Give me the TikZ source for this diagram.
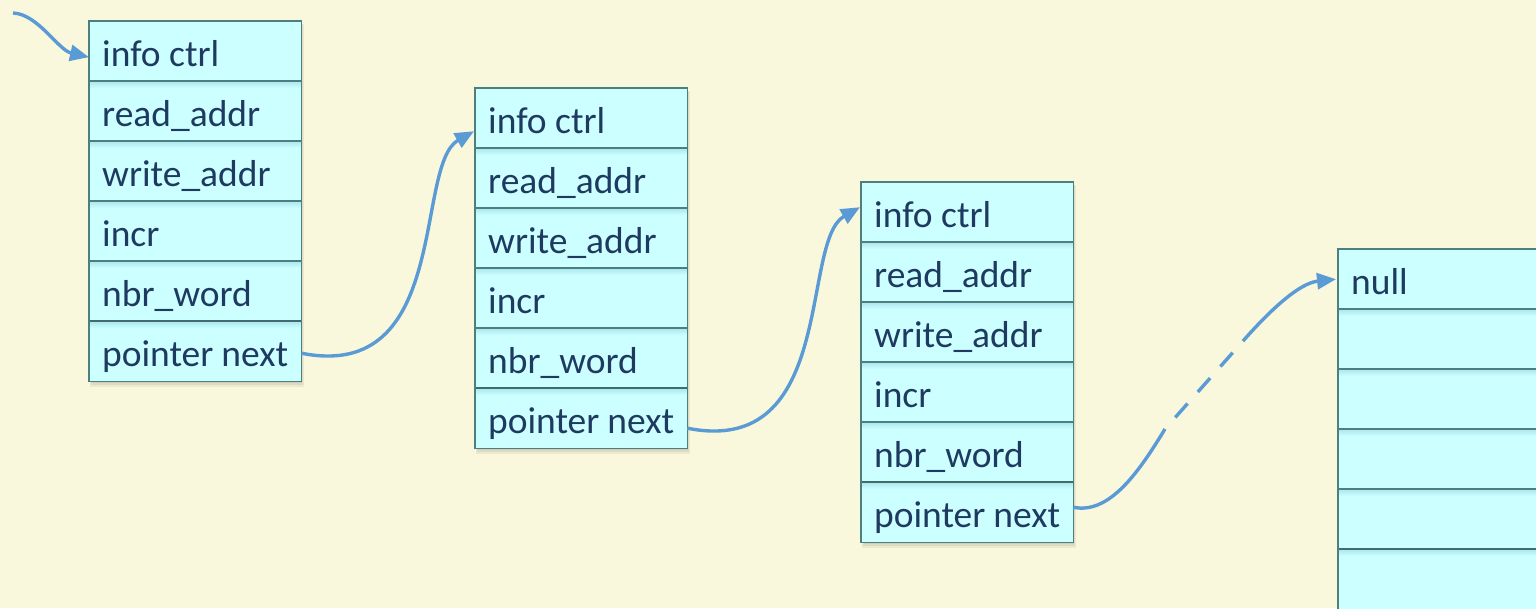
\documentclass[tikz,border=0pt]{standalone}
\usepackage{fontspec}
\setmainfont{Carlito}
\usetikzlibrary{arrows.meta,calc}
\definecolor{bg}{HTML}{FAF8DC}
\definecolor{cellfill}{HTML}{CCFFFF}
\definecolor{cellshade}{HTML}{A9E6EE}
\definecolor{cellline}{HTML}{4E7E7E}
\definecolor{txt}{HTML}{1F3A60}
\definecolor{arr}{HTML}{5B9BD5}
\newcommand\rowbox[1]{\hbox to 186pt{#1\hfil}}
\begin{document}
\begin{tikzpicture}[x=1pt,y=-1pt,
  cell/.style={fill=cellfill, draw=none, minimum width=212pt, minimum height=60pt,
    inner xsep=13pt, inner ysep=0pt, text height=30pt, text depth=0pt,
    anchor=north west, font=\fontsize{37.5}{44}\selectfont, text=txt},
  link/.style={draw=arr, line width=3.4pt, -{Triangle[length=19pt,width=16pt]}},
  linkseg/.style={draw=arr, line width=3.4pt},
  frame/.style={draw=cellline, line width=1.5pt},
  divider/.style={draw=cellline, line width=1.3pt},
  sepline/.style={draw=cellline!85!black, line width=2.8pt},
  boxshadow/.style={fill=black, opacity=0.06}
]
\fill[bg] (0,0) rectangle (1536,608);
\useasboundingbox (0,0) rectangle (1536,608);
\clip (0,0) rectangle (1536,608);

% shadows of the boxes
\foreach \bx/\by in {89/21, 475/88, 861/182, 1338/249}{
  \fill[boxshadow] (\bx+1,\by+3) rectangle (\bx+215,\by+366);
  \fill[boxshadow] (\bx+2,\by+4) rectangle (\bx+214,\by+364);
  \fill[boxshadow] (\bx+3,\by+5) rectangle (\bx+213,\by+362);
}

% box 1
\foreach \t [count=\i] in {info ctrl, read\_addr, write\_addr, incr, nbr\_word, pointer next}
  \node[cell] (a\i) at (89, {21+60*(\i-1)}) {\rowbox{\t}};
% box 2
\foreach \t [count=\i] in {info ctrl, read\_addr, write\_addr, incr, nbr\_word, pointer next}
  \node[cell] (b\i) at (475, {88+60*(\i-1)}) {\rowbox{\t}};
% box 3
\foreach \t [count=\i] in {info ctrl, read\_addr, write\_addr, incr, nbr\_word, pointer next}
  \node[cell] (c\i) at (861, {182+60*(\i-1)}) {\rowbox{\t}};
% box 4
\foreach \t [count=\i] in {null, {}, {}, {}, {}, {}}
  \node[cell] (d\i) at (1338, {249+60*(\i-1)}) {\rowbox{\t}};

% soft shading under the dividers, dividers and frames
\foreach \p in {a,b,c,d}{
  \foreach \i in {2,...,6}{
    \shade[top color=cellshade, bottom color=cellfill]
      (\p\i.north west) rectangle ($(\p\i.north east)+(0,7)$);
  }
  \foreach \i in {2,...,5}{
    \draw[divider] (\p\i.north west) -- (\p\i.north east);
  }
  \draw[sepline] (\p6.north west) -- (\p6.north east);
  \draw[frame] (\p1.north west) rectangle (\p6.south east);
}

% connectors
\coordinate (in0) at (13,13);
\draw[link] (in0) .. controls (38,14) and (58,50) .. ($(a1.west)+(0,6)$);

\draw[link] ($(a6.east)+(0,2)$) .. controls +(150,30) and +(-60,34) .. ($(b1.west)+(-1,13)$);

\draw[link] ($(b6.east)+(0,10)$) .. controls +(150,30) and +(-60,34) .. ($(c1.west)+(-1,-5)$);

\coordinate (m1) at (1165,429);
\coordinate (m2) at (1243,341);
\draw[linkseg] ($(c6.east)+(0,-5)$) .. controls (1110,515) and (1140,470) .. (m1);
\draw[linkseg, dash pattern=on 18.5pt off 15.5pt, dash phase=18.5pt] (m1) -- (m2);
\draw[link] (m2) .. controls (1272,308) and (1300,283) .. ($(d1.west)+(-2,0)$);
\end{tikzpicture}
\end{document}
